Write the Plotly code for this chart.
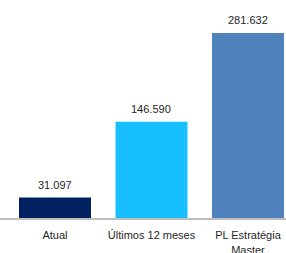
import plotly.graph_objects as go

categories = ["Atual", "Últimos 12 meses", "PL Estratégia<br>Master"]
values = [31097, 146590, 281632]
value_labels = ["31.097", "146.590", "281.632"]
colors = ["#002060", "#17BFFF", "#4F81BD"]

FONT = "Liberation Sans, Arial"

fig = go.Figure()
fig.add_trace(go.Bar(
    x=[0, 1, 2], y=values, marker=dict(color=colors, line=dict(width=0)),
    width=0.746, hoverinfo="skip",
))

for i, (v, t) in enumerate(zip(values, value_labels)):
    fig.add_annotation(x=i, y=v, text=t, showarrow=False, yanchor="bottom",
                       yshift=5, font=dict(family=FONT, size=11, color="#262626"))

fig.update_layout(
    width=286, height=253,
    margin=dict(l=0, r=0, t=0, b=35, autoexpand=False),
    paper_bgcolor="white", plot_bgcolor="white",
    showlegend=False,
    font=dict(family=FONT, size=11, color="#262626"),
    xaxis=dict(range=[-0.570, 2.394], tickmode="array", tickvals=[0, 1, 2],
               ticktext=categories, showgrid=False, zeroline=False,
               showline=True, linecolor="#BFBFBF", linewidth=2,
               ticks="outside", ticklen=6, tickcolor="rgba(0,0,0,0)",
               automargin=False, fixedrange=True),
    yaxis=dict(range=[0, 331.8 * 1000], visible=False, fixedrange=True,
               automargin=False),
)

fig.write_html("out.html", config={"displayModeBar": False},
               post_script="document.body.style.margin='0';document.body.style.overflow='hidden';")
